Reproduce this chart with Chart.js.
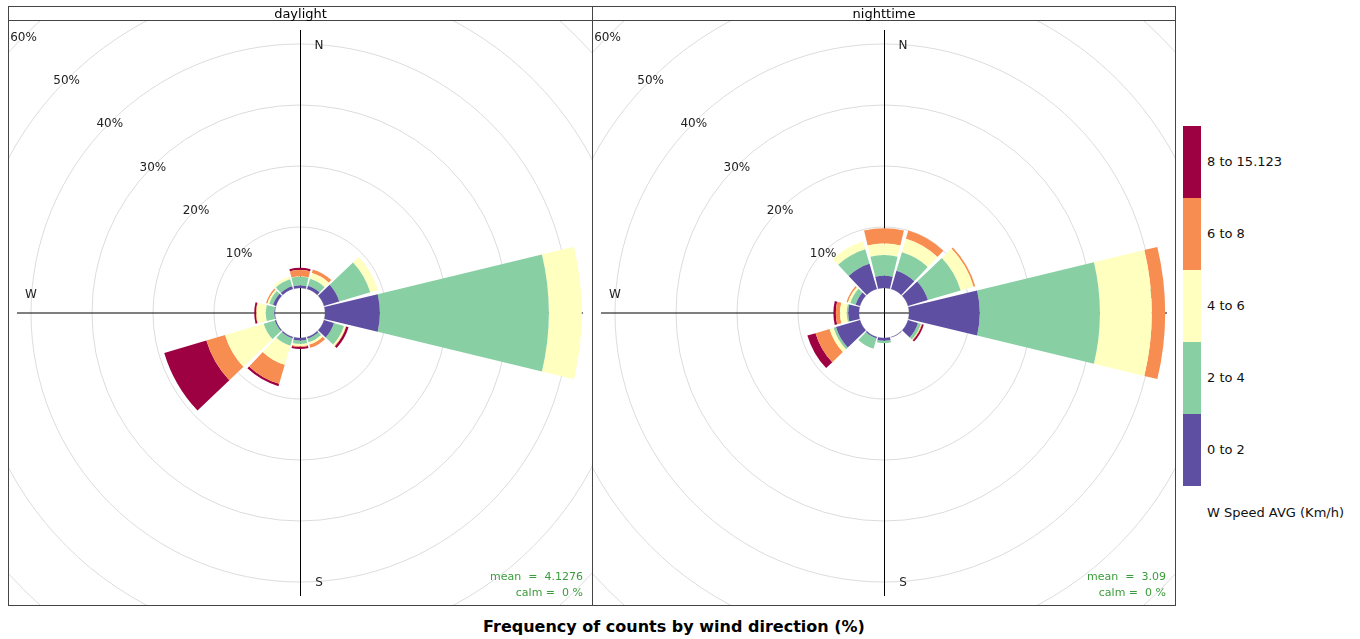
<!DOCTYPE html>
<html>
<head>
<meta charset="utf-8">
<script src="https://cdn.jsdelivr.net/npm/chart.js@4.4.1/dist/chart.umd.min.js"></script>
<style>
body{margin:0;width:1360px;height:639px;background:#fff;font-family:"DejaVu Sans",sans-serif;position:relative;overflow:hidden}
.frame{position:absolute;top:6px;height:600px;border:1px solid #444;box-sizing:border-box}
.strip{position:absolute;left:0;right:0;top:0;height:13px;border-bottom:1px solid #444;text-align:center;font-size:13px;line-height:13px;color:#000}
.clip{position:absolute;top:21px;height:584px;overflow:hidden}
.clip canvas{position:absolute;left:-100px;top:-99px}
.stats{position:absolute;top:569px;color:#3a9c3a;font-size:11px;line-height:16px;text-align:right;white-space:pre}
.key{position:absolute;left:1183px;width:18px;height:72px}
.keylab{position:absolute;left:1207px;font-size:13px;line-height:16px;color:#111;white-space:nowrap}
#title{position:absolute;left:0;width:1348px;top:617px;text-align:center;font-weight:bold;font-size:16px;line-height:20px;color:#000}
</style>
</head>
<body>
<div class="clip" style="left:9px;width:583px"><canvas id="rose-day" width="782" height="782"></canvas></div>
<div class="clip" style="left:593px;width:582px"><canvas id="rose-night" width="782" height="782"></canvas></div>
<div class="frame" style="left:8px;width:585px"><div class="strip">daylight</div></div>
<div class="frame" style="left:592px;width:584px"><div class="strip">nighttime</div></div>
<div class="stats" style="right:777px">mean  =  4.1276
calm =  0 %</div>
<div class="stats" style="right:194px">mean  =  3.09
calm =  0 %</div>
<div id="legend"></div>
<div id="title">Frequency of counts by wind direction (%)</div>

<script>
// wind direction bins (degrees, 30 deg wide)
const directions = [30, 60, 90, 120, 150, 180, 210, 240, 270, 300, 330, 360]
const speedBins = ["0 to 2", "2 to 4", "4 to 6", "6 to 8", "8 to 15.123"]
const speedColours = ["#5E4FA2", "#88D0A4", "#FFFFBF", "#F88D52", "#9E0142"]

// frequency (%) per speed bin, one value per direction
const day0to2  = [0.55, 2.6, 9.0, 1.7, 0.25, 0.4, 0.2, 0.2, 0.1, 0.5, 0.45, 0.4]
const day2to4  = [1.2, 5.3, 27.7, 1.7, 0.65, 0.55, 1.3, 1.9, 1.4, 0.65, 1.2, 1.45]
const day4to6  = [1.0, 1.3, 5.4, 0.3, 0.4, 0.35, 3.25, 6.6, 1.5, 0.3, 0.45, 0.05]
const day6to8  = [0.6, 0, 0, 0.1, 0.55, 0.15, 3.25, 3.2, 0.1, 0.25, 0, 1.05]
const day8plus = [0, 0, 0, 0.4, 0, 0.35, 0.4, 7.2, 0.3, 0, 0, 0.35]

const night0to2  = [3.1, 3.4, 11.6, 1.7, 0.1, 0.45, 0.2, 4.1, 1.75, 0.75, 4.3, 2.0]
const night2to4  = [3.2, 5.6, 19.7, 0.5, 0, 0.4, 1.8, 0.4, 0.25, 0.9, 2.5, 3.4]
const night4to6  = [2.3, 2.2, 8.5, 0.1, 0, 0, 0, 0.7, 1.1, 0.4, 1.3, 1.9]
const night6to8  = [1.4, 0.3, 2.2, 0.1, 0, 0, 0, 2.4, 0.7, 0.25, 0, 2.5]
const night8plus = [0, 0, 0, 0.3, 0, 0, 0, 1.4, 0.4, 0, 0, 0]

// radial axis
const ringValues = [0, 10, 20, 30, 40, 50, 60]
const ringLabels = ["", "10%", "20%", "30%", "40%", "50%", "60%"]
const holeMin = -4.1      // empty centre below 0 %
const axisReach = 42.3    // compass lines run out to this %
const compassReach = 40
const gapDeg = 1.4        // white gap each side of a wedge

function cumulate(series){
    let run = directions.map(() => 0)
    return series.map(s => {
        run = run.map((v, i) => v + s[i])
        return run.slice()
    })
}

// turn overlapping polar slices into stacked ring segments
const stackArcs = {
    id: "stackArcs",
    afterDatasetsUpdate(chart){
        const r = chart.scales.r
        const base = r.getDistanceFromCenterForValue(0)
        const gap = gapDeg * Math.PI / 180
        const metas = chart.data.datasets.map((d, i) => chart.getDatasetMeta(i))
        metas.forEach((meta, k) => {
            meta.data.forEach((arc, i) => {
                arc.innerRadius = k === 0 ? base : metas[k - 1].data[i].outerRadius
                arc.startAngle += gap
                arc.endAngle -= gap
            })
        })
    }
}

const roseDecor = {
    id: "roseDecor",
    beforeDatasetsDraw(chart){
        const r = chart.scales.r
        const ctx = chart.ctx
        const cx = r.xCenter, cy = r.yCenter
        const len = r.getDistanceFromCenterForValue(axisReach)
        ctx.save()
        ctx.strokeStyle = "#000"
        ctx.lineWidth = 1
        ctx.beginPath()
        ctx.moveTo(cx + 0.5, cy - len); ctx.lineTo(cx + 0.5, cy + len)
        ctx.moveTo(cx - len, cy); ctx.lineTo(cx + len, cy)
        ctx.stroke()
        const d = r.getDistanceFromCenterForValue(compassReach)
        ctx.font = '12px "DejaVu Sans"'
        ctx.fillStyle = "#222"
        ctx.textAlign = "center"
        ctx.textBaseline = "middle"
        ctx.fillText("N", cx + 19, cy - d + 2)
        ctx.fillText("S", cx + 19, cy + d + 1)
        ctx.fillText("W", cx - d, cy - 18)
        ctx.fillText("E", cx + d, cy - 18)
        ctx.restore()
    },
    afterDatasetsDraw(chart){
        const r = chart.scales.r
        const ctx = chart.ctx
        ctx.save()
        ctx.font = '12px "DejaVu Sans"'
        ctx.fillStyle = "#222"
        ctx.textAlign = "center"
        ctx.textBaseline = "middle"
        ringValues.forEach((v, i) => {
            if(!ringLabels[i]) return
            const p = r.getDistanceFromCenterForValue(v) / Math.SQRT2
            ctx.fillText(ringLabels[i], r.xCenter - p, r.yCenter - p + 1.5)
        })
        ctx.restore()
    }
}

function makeRose(canvasId, series){
    const stacked = cumulate(series)
    new Chart(canvasId, {
        type: "polarArea",
        data: {
            labels: directions.map(d => d + "°"),
            datasets: stacked.map((values, k) => ({
                label: speedBins[k],
                data: values,
                backgroundColor: speedColours[k],
                borderWidth: 0
            }))
        },
        options: {
            responsive: false,
            animation: false,
            events: [],
            layout: { padding: 0 },
            plugins: { legend: { display: false }, tooltip: { enabled: false } },
            scales: {
                r: {
                    min: holeMin,
                    max: 60,
                    startAngle: 15,
                    afterBuildTicks: s => { s.ticks = ringValues.map(v => ({ value: v })) },
                    ticks: { display: false },
                    grid: { circular: true, color: "#dcdcdc", lineWidth: 1 },
                    angleLines: { display: false },
                    pointLabels: { display: false }
                }
            }
        },
        plugins: [stackArcs, roseDecor]
    })
}

makeRose("rose-day", [day0to2, day2to4, day4to6, day6to8, day8plus])
makeRose("rose-night", [night0to2, night2to4, night4to6, night6to8, night8plus])

// colour key, highest bin on top
function buildLegend(){
    const box = document.getElementById("legend")
    const n = speedBins.length
    let html = ""
    for(let i = 0; i < n; i++){
        const k = n - 1 - i
        const top = 126 + 72 * i
        html += `<div class="key" style="top:${top}px;background:${speedColours[k]}"></div>`
        html += `<div class="keylab" style="top:${top + 28}px">${speedBins[k]}</div>`
    }
    html += `<div class="keylab" style="top:505px">W Speed AVG (Km/h)</div>`
    box.innerHTML = html
}
buildLegend()
</script>
</body>
</html>
